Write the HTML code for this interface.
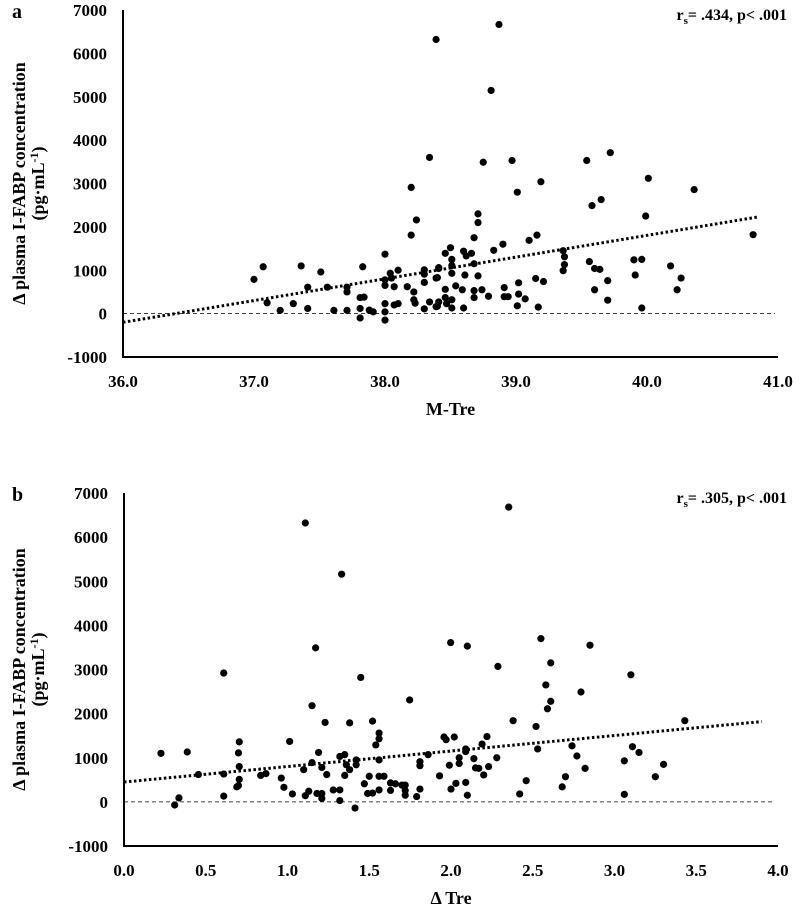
<!DOCTYPE html>
<html><head><meta charset="utf-8"><style>
html,body{margin:0;padding:0;background:#fff;}
svg{display:block;font-family:"Liberation Serif",serif;font-weight:bold;}
</style></head><body>
<svg id="chart" width="800" height="917" viewBox="0 0 800 917" xmlns="http://www.w3.org/2000/svg"></svg>
<script>
// Panel a data: M-Tre vs Δ I-FABP
const aX = [37.00,37.07,37.10,37.20,37.30,37.36,37.41,37.41,37.51,37.56,37.61,37.71,37.71,37.71,37.81,37.84,37.83,37.81,37.88,37.91,37.81,38.00,38.00,38.00,38.04,38.05,38.07,38.10,38.00,38.07,38.10,38.00,38.00,38.17,38.20,38.24,38.20,38.22,38.22,38.23,38.30,38.30,38.30,38.30,38.34,38.34,38.39,38.39,38.39,38.41,
38.87,38.81,38.75,38.97,39.01,39.19,39.54,39.72,40.01,40.36,39.58,39.65,39.99,40.81,38.71,38.71,38.68,38.83,38.90,39.10,39.16,38.50,38.46,38.60,38.66,38.62,38.51,38.51,38.41,38.68,38.40,38.51,38.61,38.71,38.54,38.59,38.68,38.74,38.91,38.46,38.46,38.51,38.41,38.47,38.40,38.51,38.60,38.68,38.79,38.91,38.94,39.02,39.02,39.07,39.01,39.17,39.15,39.21,39.36,39.37,39.37,39.36,39.56,39.60,39.64,39.70,39.60,39.70,39.90,39.96,39.91,39.96,40.18,40.26,40.23];
const aY = [790,1080,250,75,230,1100,610,120,960,610,75,610,500,75,370,380,1080,120,80,40,-100,1370,780,650,930,820,620,1000,230,200,230,40,-150,620,2910,2160,1810,500,320,240,1010,910,720,110,270,3600,6320,820,160,1040,
6666,5145,3490,3530,2800,3040,3530,3710,3120,2860,2490,2630,2250,1820,2300,2100,1750,1460,1600,1690,1810,1520,1390,1440,1390,1330,1250,1110,1060,1150,830,930,890,870,640,550,530,550,600,560,370,320,270,230,170,130,130,370,400,390,390,710,450,340,180,150,810,740,1450,1310,1130,990,1200,1040,1020,760,550,310,1240,1250,890,130,1100,820,550];
const aTrendX = [36.0, 40.85];
const aTrendY = [-200, 2230];
const aXTicks = ["36.0","37.0","38.0","39.0","40.0","41.0"];
// Panel b data: Δ Tre vs Δ I-FABP
const bX = [0.226,0.387,0.455,0.31,0.336,0.61,0.61,0.61,0.705,0.70,0.705,0.705,0.69,0.70,0.836,0.868,0.962,0.978,1.013,1.03,1.109,1.099,1.109,1.13,1.15,1.15,1.172,1.19,1.18,1.21,1.21,1.21,1.23,1.24,1.28,1.32,1.32,1.331,1.32,1.35,1.36,1.35,1.38,1.38,1.413,1.42,1.42,1.448,1.47,1.49,1.50,1.52,1.52,1.54,1.56,1.56,1.56,1.56,1.56,1.59,1.63,1.63,1.66,1.70,1.72,1.72,1.72,1.747,1.79,1.81,1.81,1.81,1.86,
2.353,1.998,2.10,2.55,2.85,2.61,2.287,2.58,3.10,2.795,2.61,2.59,2.38,2.52,3.43,1.957,1.97,2.02,2.22,2.19,2.09,2.09,2.53,2.74,3.11,3.15,2.77,2.05,2.28,2.14,1.99,2.05,2.15,2.17,2.23,2.20,1.93,3.06,3.30,2.82,3.25,2.70,2.46,2.68,2.03,2.00,2.09,2.10,2.42,3.06];
const bY = [1100,1130,620,-70,90,2920,630,130,1360,1110,800,510,340,370,600,640,540,330,1370,180,6320,730,140,240,890,2180,3490,1120,190,780,190,80,1800,620,270,270,30,5160,1030,1070,840,600,730,1790,-140,950,840,2820,410,190,580,1830,200,1290,1560,1430,950,270,580,580,430,260,410,380,380,260,150,2310,120,910,820,290,1070,
6680,3610,3530,3700,3550,3150,3070,2650,2880,2490,2280,2110,1840,1710,1840,1470,1410,1470,1480,1310,1200,1140,1200,1270,1250,1120,1040,1000,1000,980,830,870,770,760,800,610,590,930,850,760,570,570,480,340,420,290,440,150,180,170];
const bTrendX = [0.0, 3.9];
const bTrendY = [450, 1820];
const bXTicks = ["0.0","0.5","1.0","1.5","2.0","2.5","3.0","3.5","4.0"];
const yTicks = ["-1000","0","1000","2000","3000","4000","5000","6000","7000"];

const NS = "http://www.w3.org/2000/svg";
const svg = document.getElementById("chart");
function mk(tag, attrs, parent, text){
  const e = document.createElementNS(NS, tag);
  for (const k in attrs) e.setAttribute(k, attrs[k]);
  if (text !== undefined) e.textContent = text;
  (parent || svg).appendChild(e);
  return e;
}

function panel(cfg){
  const g = mk("g", {});
  
  
  const xs = v => cfg.x0 + (v - cfg.xmin) / (cfg.xmax - cfg.xmin) * (cfg.x1 - cfg.x0);
  const ys = v => cfg.yBot + (v - (-1000)) / 8000 * (cfg.yTop - cfg.yBot);
  // axes
  const yAxis = mk("line", {x1:cfg.x0, y1:cfg.yTop, x2:cfg.x0, y2:cfg.yBot+1, stroke:"#000","stroke-width":2}, g);
  
  
  const xAxis = mk("line", {x1:cfg.x0-1, y1:cfg.yBot, x2:cfg.x1, y2:cfg.yBot, stroke:"#000","stroke-width":2}, g);
  
  
  // zero line
  const z = mk("line", {x1:cfg.x0, y1:ys(0), x2:cfg.x1-3, y2:ys(0), stroke:"#000","stroke-width":0.8,"stroke-dasharray":"4,3"}, g);
  
  
  // y ticks
  yTicks.forEach(t => {
    const e = mk("text", {x:cfg.x0-16, y:ys(+t)+6, "text-anchor":"end","font-size":17}, g, t);
    
    
  });
  // x ticks
  cfg.xTicks.forEach(t => {
    const e = mk("text", {x:xs(+t), y:cfg.yBot+30, "text-anchor":"middle","font-size":17}, g, t);
    
    
  });
  // x title
  const xt = mk("text", {x:(cfg.x0+cfg.x1)/2, y:cfg.yBot+58, "text-anchor":"middle","font-size":18}, g, cfg.xTitle);
  
  
  // y title
  const cy = (cfg.yTop+cfg.yBot)/2;
  const yt = mk("text", {transform:`translate(25,${cy}) rotate(-90)`, "text-anchor":"middle","font-size":18}, g, "Δ plasma I-FABP concentration");
  
  
  const yt2 = mk("text", {transform:`translate(44,${cy}) rotate(-90)`, "text-anchor":"middle","font-size":18}, g);
  
  
  mk("tspan", {}, yt2, "(pg·mL");
  mk("tspan", {dy:-6,"font-size":12}, yt2, "-1");
  mk("tspan", {dy:6}, yt2, ")");
  // panel letter
  const pl = mk("text", {x:12, y:cfg.yTop+8, "font-size":20}, g, cfg.letter);
  
  
  // annotation
  const an = mk("text", {x:787, y:cfg.yTop+10, "text-anchor":"end","font-size":16}, g);
  
  
  mk("tspan", {}, an, "r");
  mk("tspan", {dy:4,"font-size":11}, an, "s");
  mk("tspan", {dy:-4}, an, "= " + cfg.stat + ", p< .001");
  // trend line
  const tl = mk("line", {x1:xs(cfg.tX[0]), y1:ys(cfg.tY[0]), x2:xs(cfg.tX[1]), y2:ys(cfg.tY[1]), stroke:"#000","stroke-width":3,"stroke-dasharray":"2.5,2.5"}, g);
  
  
  // points
  cfg.X.forEach((v,i) => {
    const c = mk("circle", {cx:xs(v), cy:ys(cfg.Y[i]), r:3.6, fill:"#000"}, g);
    
    
  });
}

panel({name:"panel-a", letter:"a", x0:123, x1:778, xmin:36, xmax:41, yTop:10, yBot:357,
  xTicks:aXTicks, xTitle:"M-Tre", X:aX, Y:aY, tX:aTrendX, tY:aTrendY, stat:".434"});
panel({name:"panel-b", letter:"b", x0:124, x1:778, xmin:0, xmax:4, yTop:493, yBot:846,
  xTicks:bXTicks, xTitle:"Δ Tre", X:bX, Y:bY, tX:bTrendX, tY:bTrendY, stat:".305"});
</script>
</body></html>
